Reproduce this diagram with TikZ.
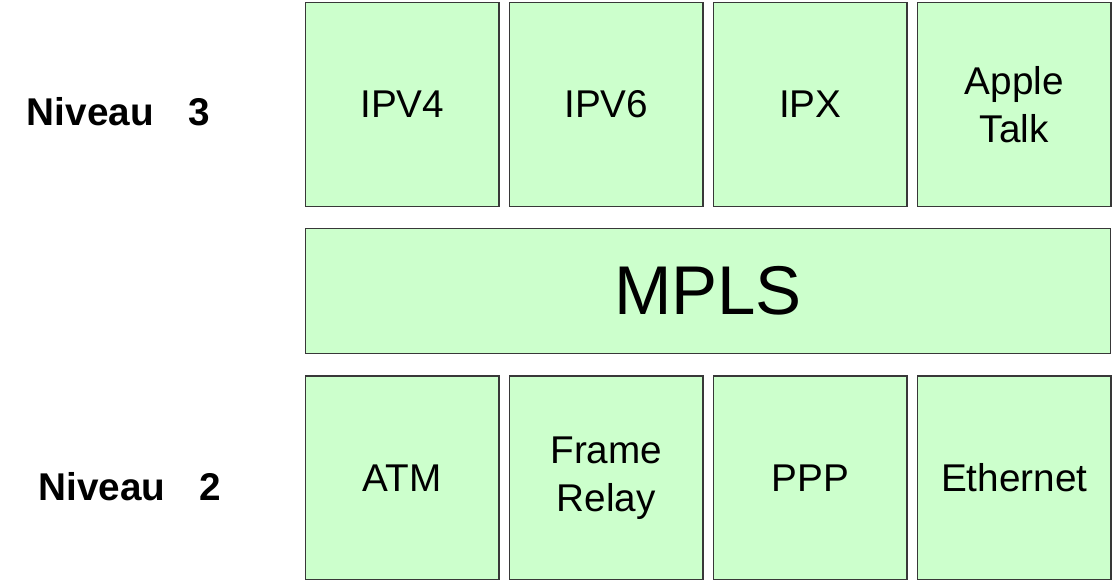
\documentclass[tikz,border=0pt]{standalone}
\usepackage{fontspec}
\setmainfont{Liberation Sans}
\usepackage{tikz}
\definecolor{boxfill}{HTML}{CCFFCC}
\definecolor{boxline}{HTML}{383838}

\begin{document}
\begin{tikzpicture}
      [ x = 1pt, y = -1pt
      , proto/.style =
        { draw = boxline, fill = boxfill, line width = 1.3pt, inner sep = 0pt
        , minimum width = 193.3pt, minimum height = 203.6pt
        , align = center, font = \fontsize{38.7}{47.6}\selectfont }
      , mpls/.style =
        { proto, minimum width = 804.6pt, minimum height = 125pt
        , font = \fontsize{69}{80}\selectfont }
      , niveau/.style =
        { anchor = base west, inner sep = 0pt
        , font = \fontsize{38.7}{46}\selectfont\bfseries }
      ]
      \useasboundingbox (0, 0) rectangle (1114, 582);
      \node [niveau] (n3) at (26.7, 125.7) {Niveau\hspace{34.5pt}3};
      \node [niveau] (n2) at (38.3, 500) {Niveau\hspace{34.5pt}2};
      \node [proto] (ipv4) at (402.3, 104.4) {IPV4};
      \node [proto] (ipv6) at (606.3, 104.4) {IPV6};
      \node [proto] (ipx) at (810.3, 104.4) {IPX};
      \node [proto] (apple) at (1014.3, 104.4) {Apple\\Talk};
      \node [mpls] (mpls) at (708, 291.2) {MPLS};
      \node [proto] (atm) at (402.3, 477.9) {ATM};
      \node [proto] (frame) at (606.3, 477.9) {Frame\\Relay};
      \node [proto] (ppp) at (810.3, 477.9) {PPP};
      \node [proto] (eth) at (1014.3, 477.9) {Ethernet};
    \end{tikzpicture}
\end{document}
